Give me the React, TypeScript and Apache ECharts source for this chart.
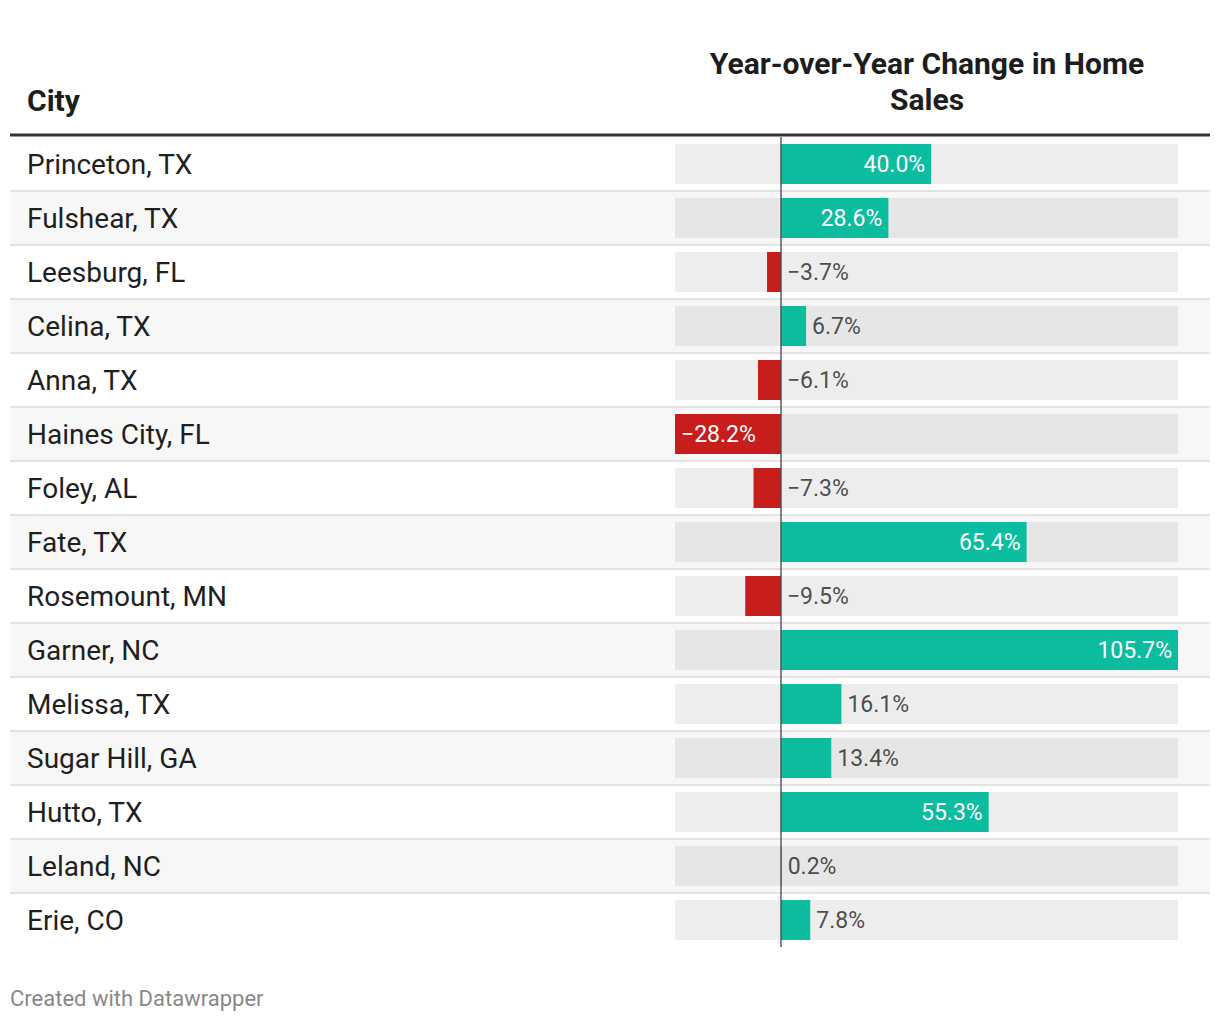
import React, { useEffect, useRef } from "react";
import * as echarts from "echarts";

const cities = [
  "Princeton, TX",
  "Fulshear, TX",
  "Leesburg, FL",
  "Celina, TX",
  "Anna, TX",
  "Haines City, FL",
  "Foley, AL",
  "Fate, TX",
  "Rosemount, MN",
  "Garner, NC",
  "Melissa, TX",
  "Sugar Hill, GA",
  "Hutto, TX",
  "Leland, NC",
  "Erie, CO",
];
const changes = [40.0, 28.6, -3.7, 6.7, -6.1, -28.2, -7.3, 65.4, -9.5, 105.7, 16.1, 13.4, 55.3, 0.2, 7.8];
const axisMin = -28.2;
const axisMax = 105.7;
const insideThreshold = 20;

const headerCity = "City";
const headerValue = "Year-over-Year Change in Home\nSales";
const footer = "Created with Datawrapper";

const FONT = "Roboto, 'Noto Sans', sans-serif";
const POS = "#0bbc9f";
const NEG = "#c71e1d";

const fmt = (v: number) => (v < 0 ? "\u2212" : "") + Math.abs(v).toFixed(1) + "%";

export default function App() {
  const ref = useRef<HTMLDivElement>(null);
  useEffect(() => {
    if (!ref.current) return;
    const chart = echarts.init(ref.current, undefined, { renderer: "svg" });
    const option: any = {
      animation: false,
      backgroundColor: "#ffffff",
      grid: { left: 675, right: 42, top: 137, height: 810, containLabel: false },
      xAxis: {
        type: "value",
        min: axisMin,
        max: axisMax,
        show: false,
      },
      yAxis: {
        type: "category",
        data: cities,
        inverse: true,
        axisLine: { show: false },
        axisTick: { show: false },
        splitLine: { show: false },
        axisLabel: {
          show: true,
          align: "left",
          margin: 648,
          fontSize: 28,
          color: "#1f1f1f",
          fontFamily: FONT,
          padding: [2, 0, 0, 0],
        },
      },
      series: [
        {
          type: "custom",
          silent: true,
          z: 0,
          encode: { x: 0, y: 1 },
          data: cities.map((c, i) => [0, i]),
          renderItem: (params: any, api: any) => {
            const i = params.dataIndex;
            const c0 = api.coord([axisMin, i]);
            const c1 = api.coord([axisMax, i]);
            const band = api.size([0, 1])[1];
            const cy = c0[1];
            const top = cy - band / 2;
            const children: any[] = [
              {
                type: "rect",
                shape: { x: 10, y: top, width: 1200, height: band },
                style: { fill: i % 2 ? "#f7f7f7" : "#ffffff" },
              },
              {
                type: "rect",
                shape: { x: c0[0], y: cy - 20, width: c1[0] - c0[0], height: 40 },
                style: { fill: i % 2 ? "#e6e6e6" : "#ededed" },
              },
            ];
            if (i > 0) {
              children.push({
                type: "line",
                shape: { x1: 10, y1: top, x2: 1210, y2: top },
                style: { stroke: "#e4e4e4", lineWidth: 2 },
              });
            }
            return { type: "group", children };
          },
        },
        {
          type: "bar",
          z: 2,
          barWidth: 40,
          data: changes.map((v) => ({
            value: v,
            itemStyle: { color: v < 0 ? NEG : POS },
            label: {
              show: Math.abs(v) >= insideThreshold,
              position: v < 0 ? "insideLeft" : "insideRight",
              distance: 6,
              color: "#ffffff",
              fontSize: 23,
              fontFamily: FONT,
              formatter: () => fmt(v),
            },
          })),
          markLine: {
            silent: true,
            symbol: ["none", "none"],
            label: { show: false },
            lineStyle: { color: "#4a4a4a", width: 1.5, type: "solid", opacity: 0.9 },
            data: [{ xAxis: 0 }],
          },
        },
        {
          type: "scatter",
          z: 3,
          symbolSize: 0,
          silent: true,
          data: changes
            .map((v, i) => ({ v, i }))
            .filter((d) => Math.abs(d.v) < insideThreshold)
            .map((d) => [Math.max(d.v, 0), d.i, d.v]),
          label: {
            show: true,
            position: "right",
            distance: 6,
            color: "#222222",
            fontSize: 23,
            fontFamily: FONT,
            formatter: (p: any) => fmt(p.value[2]),
          },
        },
      ],
      graphic: [
        {
          type: "text",
          x: 27,
          y: 100,
          style: {
            text: headerCity,
            fontSize: 30,
            fontWeight: "bold",
            fontFamily: FONT,
            fill: "#1d1d1d",
            textVerticalAlign: "middle",
          },
        },
        {
          type: "text",
          x: 927,
          y: 81,
          style: {
            text: headerValue,
            fontSize: 30,
            lineHeight: 36,
            fontWeight: "bold",
            fontFamily: FONT,
            fill: "#1d1d1d",
            textAlign: "center",
            textVerticalAlign: "middle",
          },
        },
        {
          type: "rect",
          shape: { x: 10, y: 133.5, width: 1200, height: 3 },
          style: { fill: "#333333" },
        },
        {
          type: "text",
          x: 10,
          y: 998,
          style: {
            text: footer,
            fontSize: 22,
            fontFamily: FONT,
            fill: "#888888",
            textVerticalAlign: "middle",
          },
        },
      ],
    };
    chart.setOption(option);
    return () => chart.dispose();
  }, []);
  return (
    <div
      ref={ref}
      style={{ position: "absolute", left: 0, top: 0, width: 1220, height: 1022 }}
    />
  );
}
